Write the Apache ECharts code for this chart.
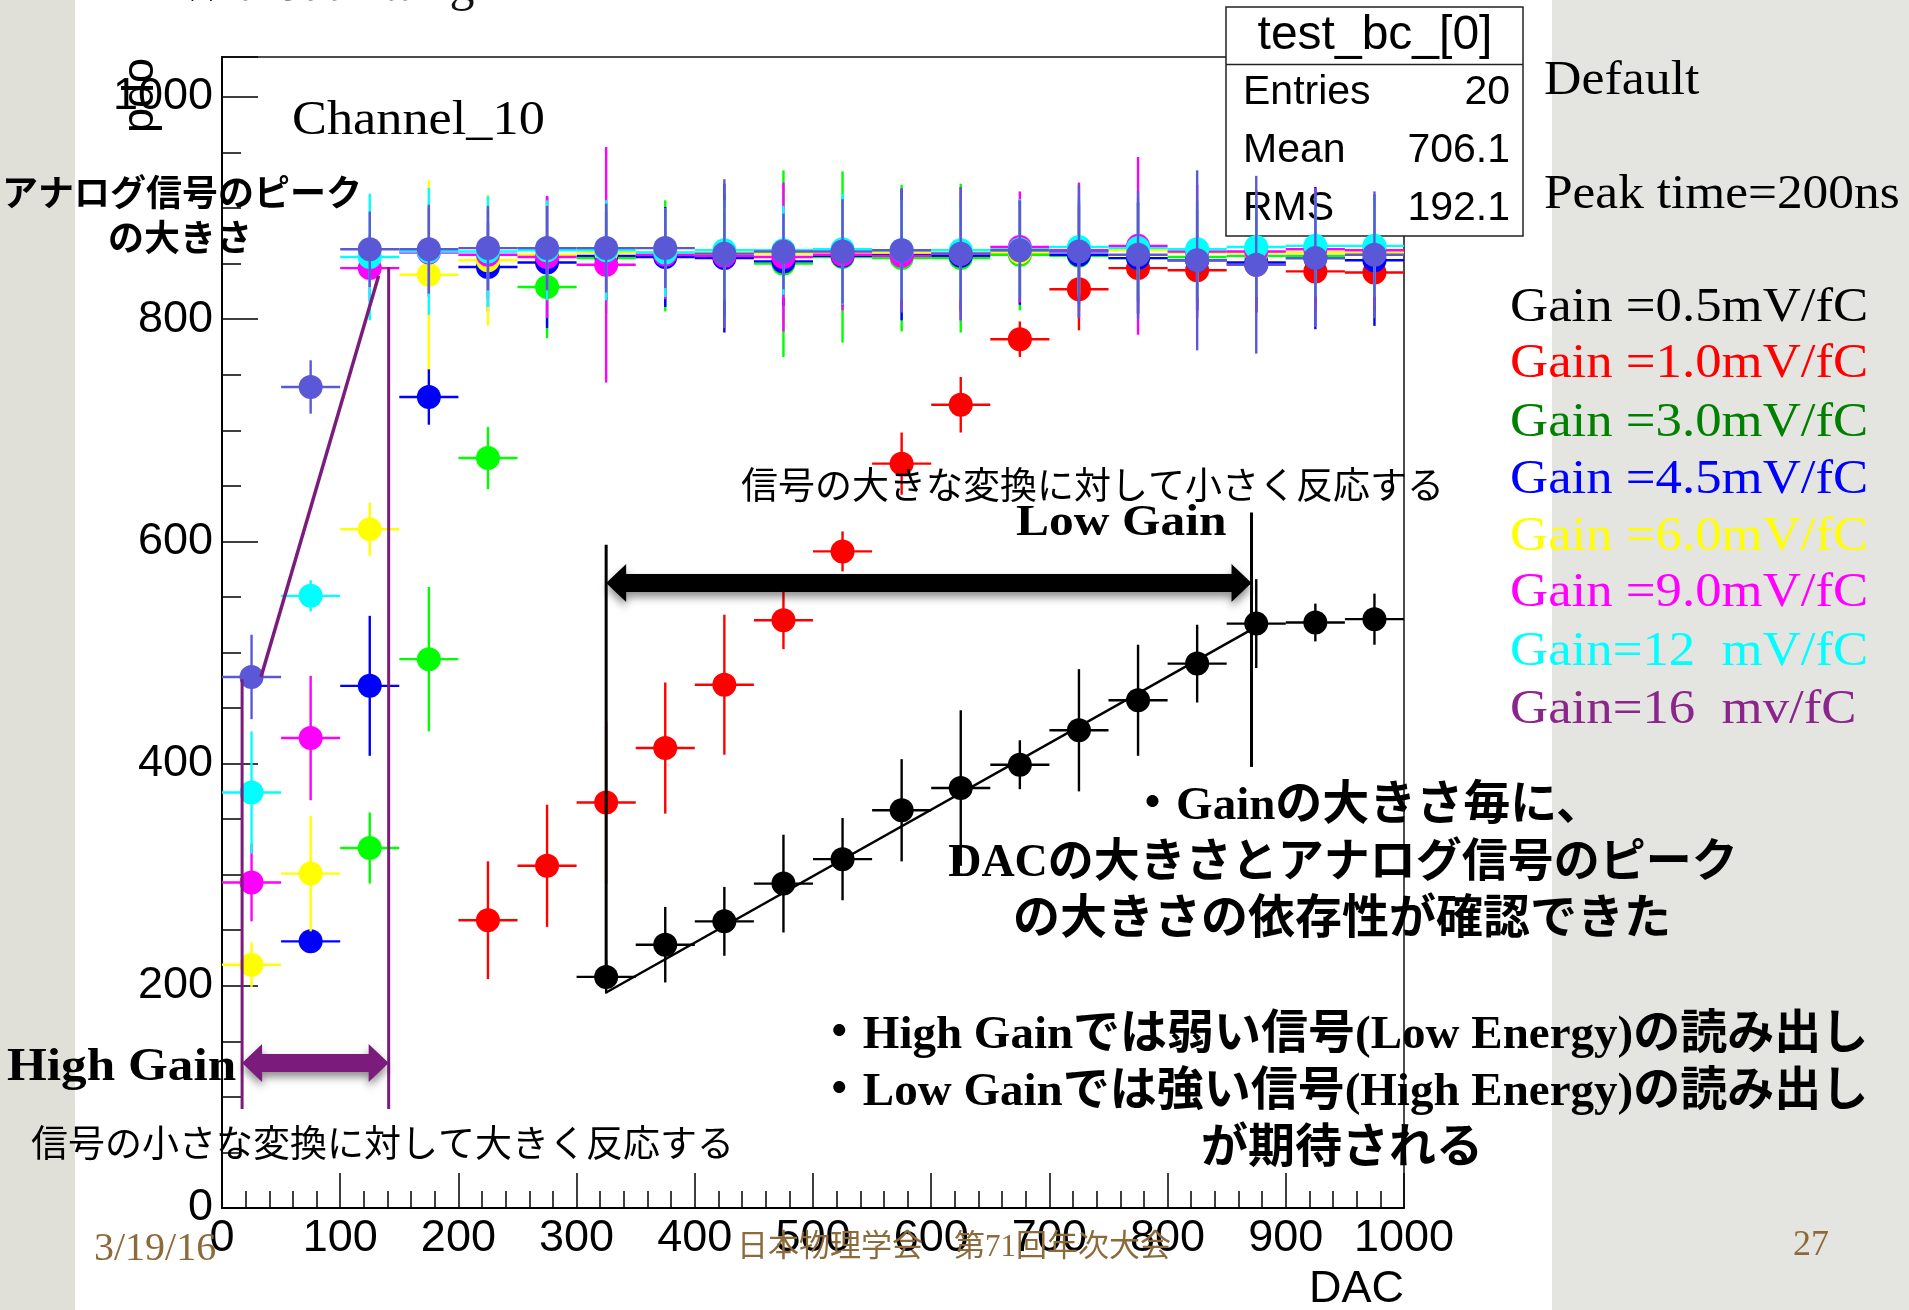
<!DOCTYPE html>
<html><head><meta charset="utf-8">
<script src="https://cdn.jsdelivr.net/npm/echarts@6/dist/echarts.min.js"></script>
<style>html,body{margin:0;padding:0;background:#fff}#c{width:1909px;height:1310px}</style>
</head><body><div id="c"></div><script>
// ---------------- data ----------------
const dac = [25,75,125,175,225,275,325,375,425,475,525,575,625,675,725,775,825,875,925,975];
const binHalfWidth = 25;
const gain05    = [null,null,null,null,null,null,208,237,258,292,314,358,378,399,430,457,490,526,527,530];
const gain05Err = [0,0,0,0,0,0,15,34,31,44,37,46,70,22,55,50,35,40,17,23];
const gain1     = [null,null,null,null,259,308,365,414,471,529,591,670,723,782,827,846,844,849,843,842];
const gain1Err  = [0,0,0,0,53,55,73,59,63,26,18,28,25,16,37,30,30,30,30,30];
const gain3     = [null,null,324,494,675,829,855,857,857,850,856,855,855,858,857,855,856,857,857,858];
const gain3Err  = [0,0,32,65,28,46,50,50,55,84,77,66,67,50,50,50,50,50,50,50];
const gain45    = [null,240,470,730,847,851,857,856,855,852,857,858,857,860,858,855,853,851,855,853];
const gain45Err = [0,10,63,25,40,59,40,45,67,40,45,59,50,47,45,50,45,45,64,59];
const gain6     = [219,301,611,840,853,858,860,860,860,859,860,860,860,860,862,862,860,860,860,860];
const gain6Err  = [20,52,24,85,59,45,40,40,40,40,40,40,40,40,40,40,40,40,40,40];
const gain9     = [293,423,846,860,858,856,849,858,857,856,858,857,859,865,862,866,861,861,863,862];
const gain9Err  = [35,56,30,40,40,55,106,40,40,67,50,50,60,50,61,80,60,55,55,50];
const gain12    = [374,551,856,861,861,862,862,860,862,862,863,862,862,863,865,864,863,865,866,866];
const gain12Err = [55,14,57,57,50,45,45,40,45,40,50,45,45,45,45,45,45,45,45,45];
const gain16    = [478,739,863,863,864,864,864,864,859,861,861,862,859,862,861,858,853,849,855,858];
const gain16Err = [38,24,34,40,38,38,40,36,67,34,47,56,60,45,60,58,81,80,62,57];
const fitX = [325, 875];
const fitY = [194, 523];
const gainLabels = ['Gain =0.5mV/fC','Gain =1.0mV/fC','Gain =3.0mV/fC','Gain =4.5mV/fC','Gain =6.0mV/fC','Gain =9.0mV/fC','Gain=12  mV/fC','Gain=16  mv/fC'];
const statsNames = ['Entries','Mean','RMS'];
const statsValues = ['20','706.1','192.1'];
const xTickStep = 100, yTickStep = 200, yMinorStep = 50;

// annotation anchors (slide overlay, in data units)
const annPurpleLeft  = [[17, 476],[17, 89]];
const annPurpleRight = [[141, 847],[141, 89]];
const annPurpleSlant = [[33, 478],[132.5, 839]];
const annPurpleArrow = [17, 141, 130.5];
const annBlackLeft   = [[325, 597],[325, 209]];
const annBlackRight  = [[871, 626],[871, 397]];
const annBlackArrow  = [325, 871, 562.6];

// ---------------- chart ----------------
const legendColors = ['#000000','#ff0000','#008000','#0000ff','#ffff00','#ff00ff','#00ffff','#8b258b'];
const seriesDefs = [
  {name:gainLabels[0], color:'#000000', vals:gain05, errs:gain05Err},
  {name:gainLabels[1], color:'#ff0000', vals:gain1,  errs:gain1Err},
  {name:gainLabels[2], color:'#00ff00', vals:gain3,  errs:gain3Err},
  {name:gainLabels[3], color:'#0000ff', vals:gain45, errs:gain45Err},
  {name:gainLabels[4], color:'#ffff00', vals:gain6,  errs:gain6Err},
  {name:gainLabels[5], color:'#ff00ff', vals:gain9,  errs:gain9Err},
  {name:gainLabels[6], color:'#00ffff', vals:gain12, errs:gain12Err},
  {name:gainLabels[7], color:'#5b58d8', vals:gain16, errs:gain16Err}
];

function makeRender(color) {
  return function (params, api) {
    const x = api.value(0), y = api.value(1), e = api.value(2);
    const c = api.coord([x, y]);
    const l = api.coord([x - binHalfWidth, y]);
    const r = api.coord([x + binHalfWidth, y]);
    const t = api.coord([x, y + e]);
    const b = api.coord([x, y - e]);
    return {type:'group', children:[
      {type:'line', shape:{x1:l[0], y1:c[1], x2:r[0], y2:c[1]}, style:{stroke:color, lineWidth:2.4}},
      {type:'line', shape:{x1:c[0], y1:t[1], x2:c[0], y2:b[1]}, style:{stroke:color, lineWidth:2.4}},
      {type:'circle', shape:{cx:c[0], cy:c[1], r:12}, style:{fill:color}}
    ]};
  };
}

function annRender(params, api) {
  const ch = [];
  const line = (seg, color, w) => {
    const a = api.coord(seg[0]), b = api.coord(seg[1]);
    ch.push({type:'line', shape:{x1:a[0], y1:a[1], x2:b[0], y2:b[1]}, style:{stroke:color, lineWidth:w}});
  };
  const arrow = (spec, color) => {
    const a = api.coord([spec[0], spec[2]]), b = api.coord([spec[1], spec[2]]);
    const x1 = a[0], x2 = b[0], yc = a[1], sh = 9, hh = 19, hl = 20;
    ch.push({type:'polygon', shape:{points:[
      [x1,yc],[x1+hl,yc-hh],[x1+hl,yc-sh],[x2-hl,yc-sh],[x2-hl,yc-hh],[x2,yc],
      [x2-hl,yc+hh],[x2-hl,yc+sh],[x1+hl,yc+sh],[x1+hl,yc+hh]]},
      style:{fill:color, shadowBlur:8, shadowOffsetY:5, shadowColor:'rgba(0,0,0,0.45)'}});
  };
  const P = '#7b1b7b';
  line(annPurpleLeft, P, 3);
  line(annPurpleRight, P, 3);
  line(annPurpleSlant, P, 3.5);
  arrow(annPurpleArrow, P);
  line(annBlackLeft, '#000', 3);
  line(annBlackRight, '#000', 3);
  arrow(annBlackArrow, '#000');
  return {type:'group', children:ch};
}

const series = seriesDefs.map((s, k) => ({
  type:'custom', name:s.name, coordinateSystem:'cartesian2d', xAxisIndex:0, yAxisIndex:0,
  encode:{x:0, y:1}, z: 3 + k, silent:true, clip:true,
  data: dac.map((x, i) => s.vals[i] == null ? null : [x, s.vals[i], s.errs[i]]).filter(Boolean),
  renderItem: makeRender(s.color)
}));
series.splice(1, 0, {
  type:'line', name:'fit', xAxisIndex:0, yAxisIndex:0, z:3, silent:true, symbol:'none',
  data: fitX.map((x, i) => [x, fitY[i]]), lineStyle:{color:'#000', width:2.5}
});
series.push({type:'custom', name:'annotations', coordinateSystem:'cartesian2d', xAxisIndex:0, yAxisIndex:0,
  z:30, silent:true, clip:false, data:[[0,0]], renderItem:annRender});

const SANS = '"Liberation Sans", Arial, sans-serif';
const SER = '"Liberation Serif", "Noto Sans CJK JP", serif';
const JP = '"Noto Sans CJK JP", sans-serif';
function T(x, y, text, font, fill, align, sx, z) {
  return {type:'text', x:x, y:y, scaleX: sx || 1, z: z || 40, silent:true,
    style:{text:text, font:font, fill:fill, align:align || 'left', verticalAlign:'middle'}};
}
const brown = '#8d6a3a';
const graphics = [
  {type:'rect', z:0, silent:true, shape:{x:0, y:0, width:75, height:1310}, style:{fill:'#e1e0d8'}},
  {type:'rect', z:0, silent:true, shape:{x:1552, y:0, width:357, height:1310}, style:{fill:'#e4e4e0'}},
  // stats box
  {type:'rect', z:1, silent:true, shape:{x:1226, y:7, width:297, height:229}, style:{fill:'#fff', stroke:'#222', lineWidth:1.5}},
  {type:'line', z:1, silent:true, shape:{x1:1226, y1:64.5, x2:1523, y2:64.5}, style:{stroke:'#222', lineWidth:1.5}},
  T(1375, 36, 'test_bc_[0]', '48px ' + SANS, '#000', 'center', 1, 2),
  {type:'text', x:163, y:58, rotation:Math.PI/2, z:5, silent:true,
    style:{text:'pdo', font:'45px ' + SANS, fill:'#000', align:'right', verticalAlign:'bottom'}},
  T(1404, 1290, 'DAC', '45px ' + SANS, '#000', 'right'),
  T(178, -13, 'Without fitting', '50px ' + SER, '#111', 'left'),
  T(292, 121, 'Channel_10', '48px ' + SER, '#000', 'left', 1.09),
  T(182, 192, 'アナログ信号のピーク', 'bold 36px ' + JP, '#000', 'center'),
  T(180, 237, 'の大きさ', 'bold 36px ' + JP, '#000', 'center'),
  T(7, 1068, 'High Gain', 'bold 47px ' + SER, '#000', 'left', 1.09),
  T(31, 1143, '信号の小さな変換に対して大きく反応する', '37px ' + JP, '#000', 'left'),
  T(741, 485, '信号の大きな変換に対して小さく反応する', '37px ' + JP, '#000', 'left'),
  T(1016, 523, 'Low Gain', 'bold 45px ' + SER, '#000', 'left', 1.1),
  T(1366, 807, '・Gainの大きさ毎に、', 'bold 47px ' + SER, '#000', 'center'),
  T(1343, 864, 'DACの大きさとアナログ信号のピーク', 'bold 46px ' + SER, '#000', 'center'),
  T(1342, 921, 'の大きさの依存性が確認できた', 'bold 47px ' + SER, '#000', 'center'),
  T(1342, 1036, '・High Gainでは弱い信号(Low Energy)の読み出し', 'bold 47px ' + SER, '#000', 'center'),
  T(1342, 1093, '・Low Gainでは強い信号(High Energy)の読み出し', 'bold 47px ' + SER, '#000', 'center'),
  T(1342, 1150, 'が期待される', 'bold 47px ' + SER, '#000', 'center'),
  T(94, 1249, '3/19/16', '40px ' + SER, brown, 'left'),
  T(737, 1248, '日本物理学会　第71回年次大会', '31px ' + SER, brown, 'left'),
  T(1793, 1246, '27', '36px ' + SER, brown, 'left'),
  T(1544, 81, 'Default', '48px ' + SER, '#000', 'left', 1.08),
  T(1544, 195, 'Peak time=200ns', '48px ' + SER, '#000', 'left', 1.07)
];
const statsY = [93, 151, 208.5];
statsNames.forEach((n, i) => {
  graphics.push(T(1243, statsY[i], n, '41px ' + SANS, '#000', 'left', 1, 2));
  graphics.push(T(1510, statsY[i], statsValues[i], '41px ' + SANS, '#000', 'right', 1, 2));
});
const legendY = [308, 364, 423, 480, 537, 593, 652, 710];
gainLabels.forEach((g, i) => graphics.push(T(1510, legendY[i], g, '48px ' + SER, legendColors[i], 'left', 1.1)));

const yMax = 1036;
const axisLineStyle = {color:'#000', width:2};
const option = {
  animation:false,
  backgroundColor:'#ffffff',
  textStyle:{fontFamily:SANS},
  grid:{left:222, top:57, width:1182, height:1151, show:true, borderColor:'#111', borderWidth:1.5, backgroundColor:'transparent', outerBoundsMode:'none'},
  xAxis:[{type:'value', min:0, max:1000, interval:xTickStep, position:'bottom',
    axisLine:{show:true, lineStyle:axisLineStyle},
    axisTick:{show:true, inside:true, length:35, lineStyle:{color:'#000', width:1.5}},
    minorTick:{show:true, splitNumber:5, length:17, lineStyle:{color:'#000', width:1.5}},
    axisLabel:{fontSize:45, fontFamily:SANS, color:'#000', margin:8, formatter: v => String(v)},
    splitLine:{show:false}, minorSplitLine:{show:false}}],
  yAxis:[
    {type:'value', min:0, max:yMax, interval:yTickStep, position:'left',
      axisLine:{show:true, lineStyle:axisLineStyle},
      axisTick:{show:true, inside:true, length:36, lineStyle:{color:'#000', width:1.5}},
      axisLabel:{fontSize:45, fontFamily:SANS, color:'#000', margin:9,
        formatter: v => (v % yTickStep === 0 ? String(v) : '')},
      splitLine:{show:false}},
    {type:'value', min:0, max:yMax, interval:yMinorStep, position:'left', offset:0,
      axisLine:{show:false},
      axisTick:{show:true, inside:true, length:19, lineStyle:{color:'#000', width:1.5}},
      axisLabel:{show:false}, splitLine:{show:false}}
  ],
  series: series,
  graphic: graphics
};
const chart = echarts.init(document.getElementById('c'), null, {renderer:'canvas', width:1909, height:1310});
chart.setOption(option);
</script></body></html>
